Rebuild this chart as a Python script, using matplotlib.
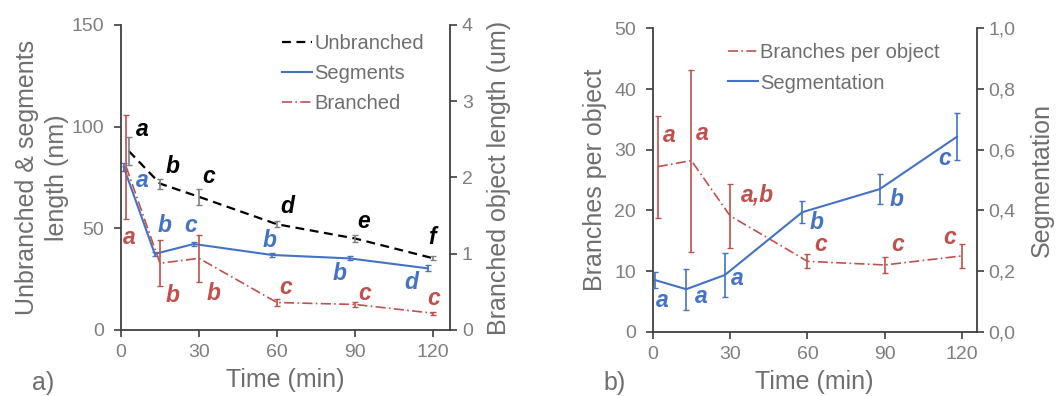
import matplotlib
matplotlib.use('Agg')
import matplotlib.pyplot as plt

plt.rcParams['font.family'] = ['Liberation Sans', 'DejaVu Sans']

BLUE = '#4472c4'
RED = '#c0504d'
GREY_TXT = '#6e6e6e'
TICK_TXT = '#7f7f7f'
SPINE = '#404040'

# panel a data
unb_x = [3, 15, 30, 60, 90, 120]
unb_y = [88, 72, 65.5, 52, 45, 35.3]
unb_err = [7, 2.5, 4, 1.5, 1.5, 1]
unb_lab = ['a', 'b', 'c', 'd', 'e', 'f']
unb_lab_xy = [(8.3, 98.4), (19.7, 80.3), (33.6, 75.4), (64, 60.7), (93.2, 53.3), (119.7, 45.6)]

seg_x = [1, 13, 28, 58, 88, 118]
seg_y = [80.3, 37.4, 42.3, 36.9, 35.2, 30.3]
seg_err = [2, 1, 1, 1, 1, 1.5]
seg_lab = ['a', 'b', 'c', 'b', 'b', 'd']
seg_lab_xy = [(8.2, 73.3), (16.7, 51.2), (26.9, 51.5), (57, 43.9), (84.2, 27.9), (111.5, 23.3)]

br_x = [2, 15, 30, 60, 90, 120]
br_y = [2.14, 0.875, 0.94, 0.36, 0.335, 0.22]
br_err = [0.68, 0.3, 0.31, 0.05, 0.03, 0.02]
br_lab = ['a', 'b', 'b', 'c', 'c', 'c']
br_lab_xy = [(3.2, 45.6), (19.7, 17.2), (35.5, 18), (63.3, 21), (93.6, 18), (120.1, 15.6)]

# panel b data
bpo_x = [2, 15, 30, 60, 90, 120]
bpo_y = [27.2, 28.2, 19.1, 11.6, 11.0, 12.5]
bpo_err = [8.4, 15, 5.3, 1.15, 1.3, 2]
bpo_lab = ['a', 'a', 'a,b', 'c', 'c', 'c']
bpo_lab_xy = [(6.4, 32.4), (19.4, 32.7), (40.7, 22.5), (65.1, 14.4), (94.8, 14.4), (115, 15.5)]

sgm_x = [1, 13, 28, 58, 88, 118]
sgm_y = [0.170, 0.140, 0.187, 0.394, 0.470, 0.643]
sgm_err = [0.026, 0.068, 0.073, 0.037, 0.05, 0.078]
sgm_lab = ['a', 'a', 'a', 'b', 'b', 'c']
sgm_lab_xy = [(3.9, 5.2), (18.7, 5.8), (32.9, 8.8), (63.6, 18), (94.6, 21.8), (113, 28.6)]

xticks = [0, 30, 60, 90, 120]

fig = plt.figure(figsize=(10.63, 3.96), dpi=100)


def style(ax, ax2):
    for a in (ax, ax2):
        a.spines['top'].set_visible(False)
        for s in a.spines.values():
            s.set_color(SPINE)
            s.set_linewidth(1.3)
        a.tick_params(labelcolor=TICK_TXT, labelsize=14, length=5, width=1.2, color=SPINE)
    ax.tick_params(axis='y', pad=7)
    ax.tick_params(axis='x', pad=5)
    ax.spines['right'].set_visible(False)
    ax2.spines['left'].set_visible(False)
    ax2.spines['bottom'].set_visible(False)
    ax.set_xticks(xticks)


def letters(ax, labs, xy, color):
    for t, (x, y) in zip(labs, xy):
        ax.text(x, y, t, color=color, fontsize=16.5, fontweight='bold', style='italic',
                ha='center', va='center')


# ---------- panel a ----------
ax = fig.add_axes([0.1138, 0.1667, 0.3095, 0.7702])
ax2 = ax.twinx()
ax.set_xlim(0, 126.5)
ax.set_ylim(0, 150)
ax2.set_ylim(0, 4)
ax.set_yticks([0, 50, 100, 150])
ax2.set_yticks([0, 1, 2, 3, 4])
style(ax, ax2)

l1, = ax.plot(unb_x, unb_y, color='black', ls=(0, (4, 2.5)), lw=1.6, label='Unbranched')
ax.errorbar(unb_x, unb_y, yerr=unb_err, fmt='none', ecolor='#808080', elinewidth=1.2, capsize=2.5)
l2, = ax.plot(seg_x, seg_y, color=BLUE, lw=1.5, label='Segments')
ax.errorbar(seg_x, seg_y, yerr=seg_err, fmt='none', ecolor=BLUE, elinewidth=1.2, capsize=2.5)
l3, = ax2.plot(br_x, br_y, color=RED, ls=(0, (6, 2, 1, 2)), lw=1.2, label='Branched')
ax2.errorbar(br_x, br_y, yerr=br_err, fmt='none', ecolor=RED, elinewidth=1.2, capsize=2.5)

letters(ax, unb_lab, unb_lab_xy, 'black')
letters(ax, seg_lab, seg_lab_xy, BLUE)
letters(ax, br_lab, br_lab_xy, RED)

ax.legend(handles=[l1, l2, l3], loc='upper left', bbox_to_anchor=(0.435, 1.03), frameon=False,
          fontsize=14.5, handlelength=1.5, handletextpad=0.1, labelspacing=0.55, labelcolor=GREY_TXT)

ax.set_ylabel('Unbranched & segments\nlength (nm)', fontsize=18, color=GREY_TXT, labelpad=2, linespacing=1.3)
ax2.set_ylabel('Branched object length (um)', fontsize=18, color=GREY_TXT, labelpad=10)
ax.set_xlabel('Time (min)', fontsize=18, color=GREY_TXT, labelpad=5)
fig.text(43 / 1063, 1 - 383 / 396, 'a)', fontsize=18, color=GREY_TXT, ha='center', va='center')

# ---------- panel b ----------
bx = fig.add_axes([0.614, 0.1624, 0.3048, 0.766])
bx2 = bx.twinx()
bx.set_xlim(0, 125.6)
bx.set_ylim(0, 50)
bx2.set_ylim(0, 1.0)
bx.set_yticks([0, 10, 20, 30, 40, 50])
bx2.set_yticks([0, 0.2, 0.4, 0.6, 0.8, 1.0])
bx2.set_yticklabels(['0,0', '0,2', '0,4', '0,6', '0,8', '1,0'])
style(bx, bx2)

m1, = bx.plot(bpo_x, bpo_y, color=RED, ls=(0, (6, 2, 1, 2)), lw=1.2, label='Branches per object')
bx.errorbar(bpo_x, bpo_y, yerr=bpo_err, fmt='none', ecolor=RED, elinewidth=1.2, capsize=2.5)
m2, = bx2.plot(sgm_x, sgm_y, color=BLUE, lw=1.5, label='Segmentation')
bx2.errorbar(sgm_x, sgm_y, yerr=sgm_err, fmt='none', ecolor=BLUE, elinewidth=1.2, capsize=2.5)

letters(bx, bpo_lab, bpo_lab_xy, RED)
letters(bx, sgm_lab, sgm_lab_xy, BLUE)

bx.legend(handles=[m1, m2], loc='upper left', bbox_to_anchor=(0.177, 1.01), frameon=False,
          fontsize=14.5, handlelength=1.5, handletextpad=0.1, labelspacing=0.55, labelcolor=GREY_TXT)

bx.set_ylabel('Branches per object', fontsize=18, color=GREY_TXT, labelpad=5)
bx2.set_ylabel('Segmentation', fontsize=18, color=GREY_TXT, labelpad=10)
bx.set_xlabel('Time (min)', fontsize=18, color=GREY_TXT, labelpad=5)
fig.text(615 / 1063, 1 - 383 / 396, 'b)', fontsize=18, color=GREY_TXT, ha='center', va='center')

fig.savefig('out.png', dpi=100)
